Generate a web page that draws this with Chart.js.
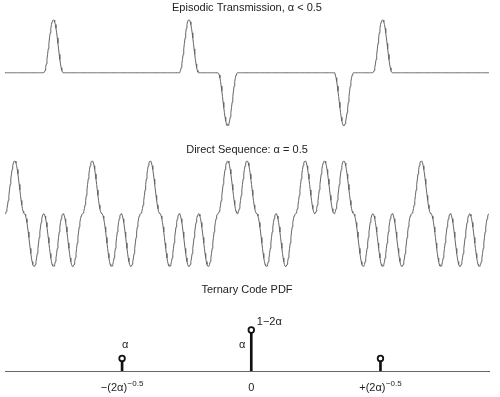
<!DOCTYPE html>
<html>
<head>
<meta charset="utf-8">
<script src="https://cdn.jsdelivr.net/npm/chart.js@4.4.1/dist/chart.umd.min.js"></script>
<style>
  html, body { margin: 0; padding: 0; background: #fff; }
  #wrap { position: relative; width: 500px; height: 397px; overflow: hidden; }
  canvas { position: absolute; left: 0; }
</style>
</head>
<body>
<div id="wrap">
  <canvas id="c1" width="500" height="135" style="top:0px"></canvas>
  <canvas id="c2" width="500" height="145" style="top:135px"></canvas>
  <canvas id="c3" width="500" height="117" style="top:280px"></canvas>
</div>
<script>
// ---- data ----
const titles = [
  'Episodic Transmission, \u03b1 < 0.5',
  'Direct Sequence: \u03b1 = 0.5',
  'Ternary Code PDF'
];
// chip values of the episodic (ternary) transmission, one per chip
const episodicChips = [0,0,1,0,0,0,0,0,0,1,0,-1,0,0,0,0,0,-1,0,1,0,0,0,0,0];
// chip values of the direct-sequence transmission, one per chip
const directChips = [1,-1,-1,-1,1,-1,-1,1,-1,-1,-1,1,1,-1,-1,1,1,1,-1,-1,-1,1,-1,-1,-1];
// ternary code PDF
const pdfPositions = [-1, 0, 1];
const pdfValues = [0.19, 0.62, 0.19];
const pdfTickBase = ['\u2212(2\u03b1)', '0', '+(2\u03b1)'];
const pdfTickSup = ['\u22120.5', '', '\u22120.5'];
const pdfNoteText = ['\u03b1', '\u03b1', '1\u22122\u03b1'];

// ---- rendering ----
const FONT = "'Liberation Sans', Arial, Helvetica, sans-serif";
Chart.defaults.font.family = FONT;
Chart.defaults.color = '#222';

// pulse-shape each chip (raised-cosine pulse per chip)
function shapeChips(chips, n) {
  const pts = [];
  chips.forEach((c, k) => {
    for (let j = 0; j < n; j++) {
      const t = j / n;
      const s = Math.sin(Math.PI * t);
      pts.push({ x: k + t, y: c * s * s });
    }
  });
  pts.push({ x: chips.length, y: 0 });
  return pts;
}

function waveChart(id, chips, title, pad, tpad) {
  return new Chart(document.getElementById(id), {
    type: 'line',
    data: { datasets: [{
      data: shapeChips(chips, 30),
      borderColor: '#666', borderWidth: 1, pointRadius: 0, tension: 0, fill: false
    }]},
    options: {
      responsive: false, animation: false, devicePixelRatio: 1,
      layout: { padding: pad },
      plugins: {
        legend: { display: false }, tooltip: { enabled: false },
        title: { display: true, text: title, color: '#222',
                 font: { size: 11, weight: 'normal', family: FONT }, padding: tpad }
      },
      scales: {
        x: { type: 'linear', min: 0, max: chips.length, display: false },
        y: { min: -1, max: 1, display: false }
      }
    }
  });
}

waveChart('c1', episodicChips, titles[0], { left: 5, right: 11, top: 0, bottom: 9 }, { top: 1, bottom: 5.3 });
waveChart('c2', directChips, titles[1], { left: 5, right: 11, top: 0, bottom: 13.3 }, { top: 8, bottom: 4.5 });

// annotation placement (pixel offsets from the stem top)
const noteStyle = [
  { idx: 0, dx: 3, dy: -13, align: 'center' },
  { idx: 1, dx: -9, dy: 15, align: 'center' },
  { idx: 1, dx: 5.5, dy: -8, align: 'left' }
];

const pdfText = {
  id: 'pdfText',
  afterDatasetsDraw(chart) {
    const { ctx, scales: { x, y }, chartArea } = chart;
    ctx.save();
    ctx.fillStyle = '#222';
    ctx.textBaseline = 'middle';
    ctx.font = '11px ' + FONT;
    noteStyle.forEach((s, i) => {
      ctx.textAlign = s.align;
      ctx.fillText(pdfNoteText[i], x.getPixelForValue(pdfPositions[s.idx]) + s.dx,
                   y.getPixelForValue(pdfValues[s.idx]) + s.dy);
    });
    // tick labels with superscripts
    ctx.textBaseline = 'alphabetic';
    ctx.textAlign = 'left';
    const baseY = chartArea.bottom + 20;
    pdfPositions.forEach((p, i) => {
      ctx.font = '11px ' + FONT;
      const wb = ctx.measureText(pdfTickBase[i]).width;
      ctx.font = '8px ' + FONT;
      const ws = pdfTickSup[i] ? ctx.measureText(pdfTickSup[i]).width + 0.5 : 0;
      const x0 = x.getPixelForValue(p) - (wb + ws) / 2;
      ctx.font = '11px ' + FONT;
      ctx.fillText(pdfTickBase[i], x0, baseY);
      if (pdfTickSup[i]) {
        ctx.font = '8px ' + FONT;
        ctx.fillText(pdfTickSup[i], x0 + wb + 0.5, baseY - 5);
      }
    });
    ctx.restore();
  }
};

new Chart(document.getElementById('c3'), {
  data: { datasets: [
    { type: 'scatter', order: 0,
      data: pdfPositions.map((p, i) => ({ x: p, y: pdfValues[i] })),
      showLine: false, pointRadius: 2.8, pointBorderWidth: 1.8,
      pointBorderColor: '#111', pointBackgroundColor: '#fff' },
    { type: 'bar', order: 1,
      data: pdfPositions.map((p, i) => ({ x: p, y: pdfValues[i] })),
      backgroundColor: '#111', borderWidth: 0, barThickness: 2 }
  ]},
  options: {
    responsive: false, animation: false, devicePixelRatio: 1,
    layout: { padding: { left: 5, right: 11, top: 0, bottom: 26 } },
    plugins: {
      legend: { display: false }, tooltip: { enabled: false },
      title: { display: true, text: titles[2], color: '#222',
               font: { size: 11, weight: 'normal', family: FONT }, padding: { top: 3.5, bottom: 13.3 } }
    },
    scales: {
      x: { type: 'linear', min: -1.9, max: 1.84, display: true, offset: false,
           grid: { display: false, drawTicks: false, tickLength: 0 }, ticks: { display: false },
           border: { display: true, color: '#666', width: 1 } },
      y: { min: 0, max: 0.9225, display: false }
    }
  },
  plugins: [pdfText]
});
</script>
</body>
</html>
